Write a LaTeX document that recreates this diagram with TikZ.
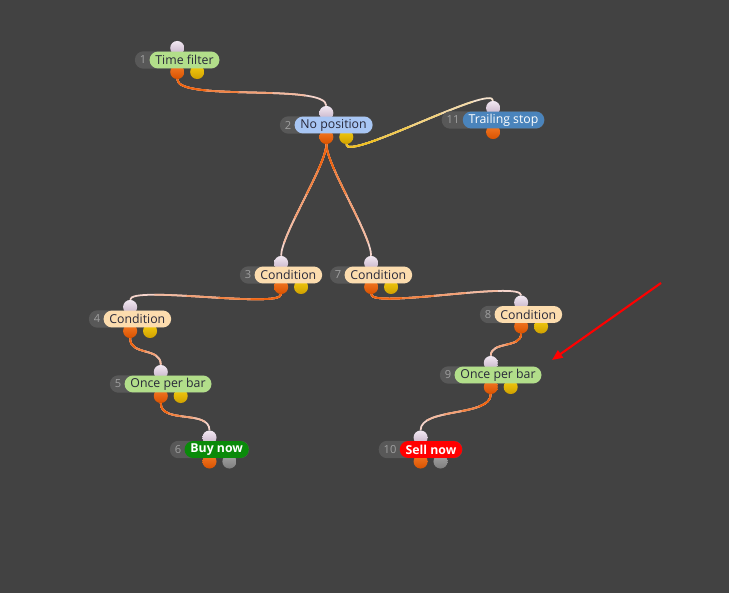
\documentclass[tikz,border=0pt]{standalone}
\usepackage{fontspec}
\setmainfont{Open Sans}
\usepackage{xcolor}
\usetikzlibrary{arrows.meta,positioning,fit,backgrounds}

\definecolor{canvasgrey}{HTML}{424242}
\definecolor{taggrey}{HTML}{585858}
\definecolor{numgrey}{HTML}{A0A0A0}
\definecolor{pilltext}{HTML}{28283A}
\definecolor{pillgreen}{HTML}{B2DE8A}
\definecolor{pillblue}{HTML}{A8C6F4}
\definecolor{pillsteel}{HTML}{4A84BC}
\definecolor{pillpeach}{HTML}{FCDCAE}
\definecolor{buygreen}{HTML}{0A8A0A}
\definecolor{sellred}{HTML}{FF0000}
\definecolor{inlight}{HTML}{F2E8F2}
\definecolor{indark}{HTML}{C4B0C6}
\definecolor{orangelight}{HTML}{F47A26}
\definecolor{orangedark}{HTML}{D85200}
\definecolor{yellowlight}{HTML}{F4CC10}
\definecolor{yellowdark}{HTML}{CFA000}
\definecolor{greylight}{HTML}{A4A4A4}
\definecolor{greydark}{HTML}{7E7E7E}
\definecolor{wireorange}{HTML}{F06410}
\definecolor{wireyellow}{HTML}{F0C020}
\definecolor{wireend}{HTML}{F6E8EC}
\definecolor{arrowred}{HTML}{FF0000}

\pgfdeclarelayer{canvas}
\pgfdeclarelayer{wires}
\pgfsetlayers{canvas,wires,background,main}

% block: name, x, y (of the number), number, label, pill style, second port
\newcommand{\block}[7]{%
  \node[numtxt] (t#1) at (#2,#3) {#4};
  \node[pill, #6, right=-1.5pt of t#1] (#1) {#5};
  \begin{pgfonlayer}{background}
    \node[numtag, fit=(t#1)(#1)] (b#1) {};
    \node[inport] (#1in) at ([yshift=2.6pt]b#1.north) {};
    \node[oport] (#1out) at ([yshift=-2.6pt]b#1.south) {};
    \ifx\relax#7\relax\else
      \node[#7] (#1alt) at ([xshift=17pt,yshift=-2.6pt]b#1.south) {};
    \fi
  \end{pgfonlayer}}

% wire: colour, from, to, length (pt), bend
\newcommand{\wire}[5][wireorange]{%
  \begin{pgfonlayer}{wires}
    \foreach \f/\mix in {4/15,0.8/35,0.6/55,0.4/78,0.2/100}{
      \pgfmathsetmacro{\seglen}{\f*#4}
      \draw[wire, draw=#1!\mix!wireend, dash pattern=on \seglen pt off 2000pt]
        (#2) .. controls +(0,#5) and +(0,-#5) .. (#3);
    }
  \end{pgfonlayer}}

\begin{document}
\begin{tikzpicture}[
  x=0.03cm, y=-0.03cm,
  pill/.style={rectangle, rounded corners=7.25pt, minimum height=14.5pt,
    inner xsep=5pt, inner ysep=0pt, text=pilltext,
    font=\fontsize{10.5}{12}\selectfont},
  action/.style={text=white, font=\fontsize{10.5}{12}\selectfont\bfseries},
  numtxt/.style={inner xsep=4pt, inner ysep=0pt, minimum height=14.5pt,
    text=numgrey, font=\fontsize{9.5}{10}\selectfont},
  numtag/.style={rectangle, rounded corners=7.25pt, fill=taggrey, inner sep=0pt},
  port/.style={circle, minimum size=12pt, inner sep=0pt},
  inport/.style={port, top color=inlight, bottom color=indark},
  oport/.style={port, top color=orangelight, bottom color=orangedark},
  yport/.style={port, top color=yellowlight, bottom color=yellowdark},
  gport/.style={port, top color=greylight, bottom color=greydark},
  wire/.style={line width=1.5pt},
  arr/.style={-{Triangle[length=9pt,width=7.5pt]}, line width=1.8pt, draw=arrowred}
]
  \begin{pgfonlayer}{canvas}
    \fill[canvasgrey] (0,0) rectangle (729,593);
  \end{pgfonlayer}

  \block{timefilter}{143}{60}{1}{Time filter}{fill=pillgreen}{yport}
  \block{noposition}{288}{125}{2}{No position}{fill=pillblue}{yport}
  \block{trailing}{453}{120}{11}{Trailing stop}{fill=pillsteel, text=white}{}
  \block{cond3}{248}{275}{3}{Condition}{fill=pillpeach}{yport}
  \block{cond7}{338}{275}{7}{Condition}{fill=pillpeach}{yport}
  \block{cond4}{97}{319}{4}{Condition}{fill=pillpeach}{yport}
  \block{cond8}{488}{314.5}{8}{Condition}{fill=pillpeach}{yport}
  \block{once9}{448}{375}{9}{Once per bar}{fill=pillgreen}{yport}
  \block{once5}{118}{384}{5}{Once per bar}{fill=pillgreen}{yport}
  \block{buy}{178}{449.5}{6}{Buy now}{fill=buygreen, action}{gport}
  \block{sell}{390}{449.5}{10}{Sell now}{fill=sellred, action}{gport}

  \wire{timefilterout}{nopositionin}{141}{30}
  \wire[wireyellow]{nopositionalt}{trailingin}{145}{25}
  \wire{nopositionout}{cond3in}{115}{28}
  \wire{nopositionout}{cond7in}{115}{28}
  \wire{cond3out}{cond4in}{137}{22}
  \wire{cond7out}{cond8in}{137}{22}
  \wire{cond4out}{once5in}{47}{25}
  \wire{cond8out}{once9in}{43}{22}
  \wire{once5out}{buyin}{55}{28}
  \wire{once9out}{sellin}{77}{30}

  \coordinate (pointer) at (661,283);
  \coordinate (target) at (552,360);
  \draw[arr] (pointer) -- (target);
\end{tikzpicture}
\end{document}
